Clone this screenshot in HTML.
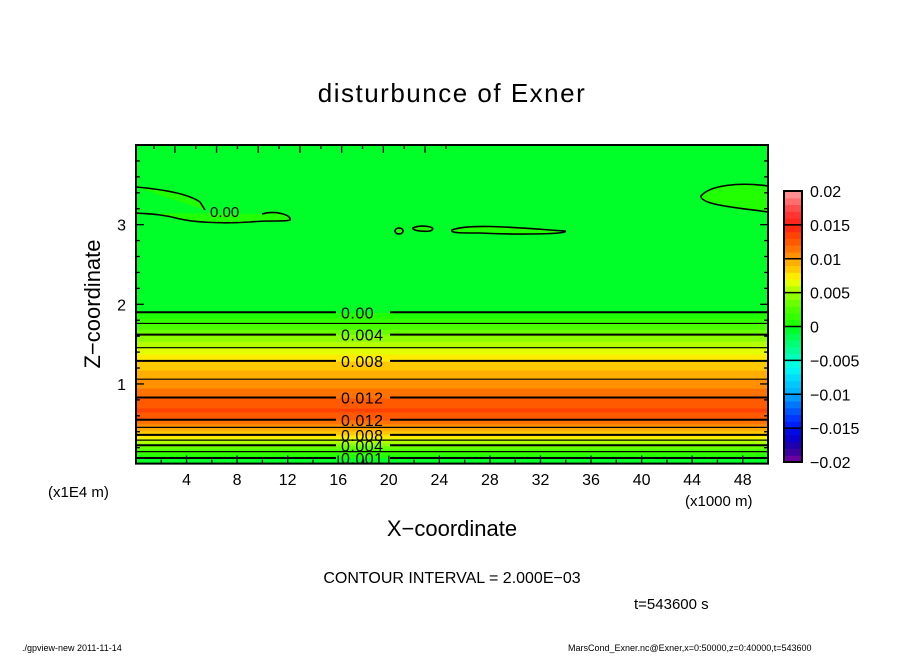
<!DOCTYPE html>
<html><head><meta charset="utf-8"><style>
body{margin:0;background:#fff;font-family:"Liberation Sans",sans-serif;}
svg text{font-family:"Liberation Sans",sans-serif;}
</style></head><body>
<svg id="chart" width="904" height="654" xmlns="http://www.w3.org/2000/svg">
<text x="452" y="102" font-size="26" text-anchor="middle" letter-spacing="1.5">disturbunce of Exner</text>
<g id="field"></g>
<g id="axes"></g>
<g id="cbar"></g>
<text transform="translate(100,304) rotate(-90)" font-size="22" text-anchor="middle">Z−coordinate</text>
<text x="48" y="497" font-size="15">(x1E4 m)</text>
<text x="685" y="506" font-size="15">(x1000 m)</text>
<text x="452" y="536" font-size="22" text-anchor="middle">X−coordinate</text>
<text x="452" y="583" font-size="16" text-anchor="middle">CONTOUR INTERVAL = 2.000E−03</text>
<text x="634" y="609" font-size="15">t=543600 s</text>
<text x="22" y="651" font-size="9">./gpview-new  2011-11-14</text>
<text x="568" y="651" font-size="9">MarsCond_Exner.nc@Exner,x=0:50000,z=0:40000,t=543600</text>
</svg>
<script>
// profile data (value vs height, x1E4 m)
const zLevels = [0, 0.07, 0.23, 0.36, 0.55, 0.67, 0.83, 1.29, 1.62, 1.9, 2.5, 4];
const values  = [-0.0005, 0.0, 0.004, 0.008, 0.012, 0.0132, 0.012, 0.008, 0.004, 0.0, -0.0004, -0.0004];
const xTicks = [4,8,12,16,20,24,28,32,36,40,44,48];
const zTicks = [1,2,3];
const cbarTicks = [0.02,0.015,0.01,0.005,0,-0.005,-0.01,-0.015,-0.02];
const cbarLabels = ["0.02","0.015","0.01","0.005","0","−0.005","−0.01","−0.015","−0.02"];
const contourLabels = [[0.0,"0.00",1.9],[0.004,"0.004",1.62],[0.008,"0.008",1.29],[0.012,"0.012",0.83],[0.012,"0.012",0.55],[0.008,"0.008",0.36],[0.004,"0.004",0.23],[0.0,"0.001",0.07]];

const NS="http://www.w3.org/2000/svg";
const X0=136,X1=768,Y0=463.6,Y1=145;
const xs=v=>X0+(X1-X0)*v/50, zs=v=>Y0-(Y0-Y1)*v/4;
function mk(t,a,p){const e=document.createElementNS(NS,t);for(const k in a)e.setAttribute(k,a[k]);p.appendChild(e);return e;}
const stops=[[-0.02,[128,0,160]],[-0.018,[40,0,160]],[-0.016,[0,0,220]],[-0.014,[0,40,255]],[-0.012,[0,100,255]],[-0.01,[0,170,255]],[-0.008,[0,210,255]],[-0.006,[0,255,240]],[-0.004,[0,255,170]],[-0.002,[0,255,100]],[-0.0005,[0,255,40]],[0.0005,[30,255,0]],[0.002,[60,255,0]],[0.004,[120,255,0]],[0.006,[200,255,0]],[0.007,[255,255,0]],[0.008,[255,215,0]],[0.01,[255,160,0]],[0.012,[255,100,0]],[0.013,[255,80,0]],[0.015,[255,30,20]],[0.017,[255,60,60]],[0.02,[255,160,160]]];
function col(v){v=Math.max(-0.02,Math.min(0.02,v));for(let i=1;i<stops.length;i++){if(v<=stops[i][0]){const a=stops[i-1],b=stops[i],t=(v-a[0])/(b[0]-a[0]);return`rgb(${a[1].map((c,j)=>Math.round(c+(b[1][j]-c)*t)).join(",")})`;}}return"rgb(255,160,160)";}
function q(v){return (Math.floor(v/0.001)+0.5)*0.001;}
const field=document.getElementById('field');
const N=320;
for(let i=0;i<N;i++){
  const z0=4*i/N,z1=4*(i+1)/N,zm=(z0+z1)/2;
  let k=0;while(k<zLevels.length-2&&zm>zLevels[k+1])k++;
  const t=(zm-zLevels[k])/(zLevels[k+1]-zLevels[k]);
  const v=values[k]+(values[k+1]-values[k])*t;
  const r=mk('rect',{x:X0,y:zs(z1),width:X1-X0,height:zs(z0)-zs(z1)+0.6,fill:col(q(v))},field);
  
  
}
for(let k=0;k<zLevels.length-1;k++){
  const a=values[k],b=values[k+1];
  for(let c=-2;c<=14;c+=2){const lv=c*0.001;
    const hit=(lv-a)*(lv-b)<0||(lv===b&&a!==b&&k<zLevels.length-2&&values[k+2]!==b&&false);
    if(hit||lv===b&&a!==b){
      if(lv===b&&a!==b&&!hit){} 
      const z=lv===b?zLevels[k+1]:zLevels[k]+(lv-a)/(b-a)*(zLevels[k+1]-zLevels[k]);
      const thick=c%4===0;
      const segs=thick?[[X0,336],[390,X1]]:[[X0,X1]];
      for(const s of segs){
        const l=mk('line',{x1:s[0],x2:s[1],y1:zs(z),y2:zs(z),stroke:'#000','stroke-width':thick?2:1.2},field);
        
        }}}
}
for(const [v,lab,z] of contourLabels){const y=zs(z);
  const t=mk('text',{x:341,y:y+6,'font-size':16,'letter-spacing':'0.5'},field);t.textContent=lab;
  
  }
const blobs=["M136,187 C170,190 190,195 200,202 L205,210 M262,214 C275,210 292,215 290,220 C285,222 270,220 250,222 C220,224 190,222 176,218 C160,214 150,214 136,213",
"M399,228 a4,3 0 1,0 0.1,0Z","M413,228 C420,224 440,227 430,231 C420,232 412,230 413,228Z",
"M452,230 C470,223 520,228 565,231 C570,234 520,235 480,233 C460,233 450,233 452,230Z",
"M768,186 C740,182 710,185 701,196 C700,205 740,208 768,212"];
for(const d of blobs){
  const p=mk('path',{d:d,fill:'#22ff00',stroke:'#000','stroke-width':1.6},field);
  
  }
const bl=mk('text',{x:210,y:217,'font-size':15},field);bl.textContent="0.00";


const ax=document.getElementById('axes');
const fr=mk('rect',{x:X0,y:Y1,width:X1-X0,height:Y0-Y1,fill:'none',stroke:'#000','stroke-width':2},ax);


for(let v=2;v<50;v+=2){const x=xs(v),L=v%4===0?8:4;
  mk('line',{x1:x,x2:x,y1:Y0,y2:Y0-L,stroke:'#000','stroke-width':1.3},ax);}
for(let k=0;k<15;k++){const x=154+20.85*k;if(x>=X1)break;const L=k%2===1?8:4;
  mk('line',{x1:x,x2:x,y1:Y1,y2:Y1+L,stroke:'#000','stroke-width':1.3},ax);}
for(let v=0.2;v<4;v+=0.2){const y=zs(v),L=Math.abs(v-Math.round(v))<0.01?8:4;
  mk('line',{x1:X0,x2:X0+L,y1:y,y2:y,stroke:'#000','stroke-width':1.3},ax);
  mk('line',{x1:X1,x2:X1-L,y1:y,y2:y,stroke:'#000','stroke-width':1.3},ax);}
for(const v of xTicks){const t=mk('text',{x:xs(v),y:485,'font-size':16,'text-anchor':'middle'},ax);t.textContent=v;
  
  }
for(const v of zTicks){const t=mk('text',{x:126,y:zs(v)+6,'font-size':16,'text-anchor':'end'},ax);t.textContent=v;
  
  }
const cb=document.getElementById('cbar');
const CX=784,CW=18,CT=191,CB=462,cy=v=>CB-(CB-CT)*(v+0.02)/0.04;
for(let i=0;i<40;i++){const v=-0.02+i*0.001;
  const r=mk('rect',{x:CX,y:cy(v+0.001),width:CW,height:cy(v)-cy(v+0.001)+0.5,fill:col(v+0.0005)},cb);
  
  }
for(let i=0;i<cbarTicks.length;i++){const v=cbarTicks[i],y=cy(v);
  mk('line',{x1:CX,x2:CX+CW,y1:y,y2:y,stroke:'#000','stroke-width':1.5},cb);
  const t=mk('text',{x:810,y:y+6,'font-size':16},cb);t.textContent=cbarLabels[i];
  
  }
mk('rect',{x:CX,y:CT,width:CW,height:CB-CT,fill:'none',stroke:'#000','stroke-width':2},cb);
</script>
</body></html>
